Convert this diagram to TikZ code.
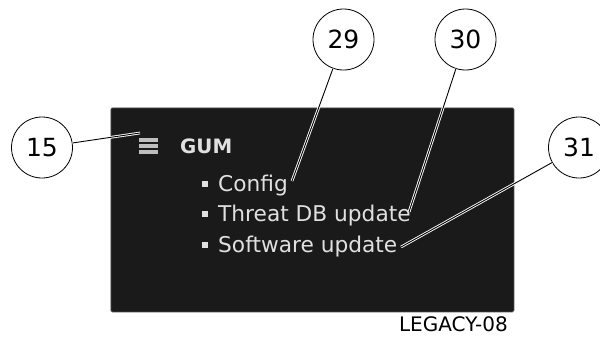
\documentclass[tikz,border=0pt]{standalone}
\usepackage{fontspec}
\setmainfont{DejaVu Sans}
\definecolor{panel}{HTML}{1A1A1A}
\definecolor{itemtxt}{HTML}{E0E0E0}
\tikzset{
  callout/.style={circle, draw=black, line width=0.8pt, fill=white, minimum size=61pt, inner sep=0pt, font=\fontsize{25}{25}\selectfont},
  leader/.style={draw=white, double=black, double distance=0.9pt, line width=0.9pt},
  item/.style={anchor=base west, text=itemtxt, inner sep=0pt, font=\fontsize{21.7}{21.7}\selectfont},
  bulletsq/.style={fill=itemtxt, minimum size=5.5pt, inner sep=0pt},
  bar/.style={fill=itemtxt!85!black, draw=none}
}
\begin{document}
\begin{tikzpicture}[x=1pt,y=-1pt]
\useasboundingbox (0,0) rectangle (600,338);
\clip (0,0) rectangle (600,338);
% panel
\node[draw=black!70, line width=0.8pt, fill=panel, rounded corners=1.5pt, minimum width=403pt, minimum height=204pt, anchor=north west, inner sep=0pt] (panel) at (110.5,107.5) {};
% list icon
\node[inner sep=0pt, minimum width=19pt, minimum height=16pt] (icon) at (148,145.5) {};
\fill[bar] (139,137.5) rectangle (157.5,141.5);
\fill[bar] (139,143.5) rectangle (157.5,147.5);
\fill[bar] (139,149.5) rectangle (157.5,153.5);
\coordinate (iconpt) at (140,133);
% title
\node[anchor=base west, text=itemtxt, inner sep=0pt, font=\fontsize{19.8}{19.8}\selectfont\bfseries] (gum) at (180,153) {GUM};
% bullets and items
\node[bulletsq] (b1) at (205,184) {};
\node[bulletsq] (b2) at (205,214) {};
\node[bulletsq] (b3) at (205,245) {};
\node[item] (config) at (218,191) {Config};
\node[item] (threat) at (218,221) {Threat DB update};
\node[item] (soft) at (218,252) {Software update};
\coordinate (e29) at (292,181);
\coordinate (e30) at (409,212);
\coordinate (e31) at (401,247);
% footer
\node[anchor=base east, inner sep=0pt, font=\fontsize{20}{20}\selectfont] (legacy) at (508,331) {LEGACY-08};
% callouts
\node[callout] (c15) at (42,147.5) {15};
\node[callout] (c29) at (343.5,39.5) {29};
\node[callout] (c30) at (465.5,39.5) {30};
\node[callout] (c31) at (579,147.5) {31};
% leaders
\draw[leader] (c15) -- (iconpt);
\draw[leader] (c29) -- (e29);
\draw[leader] (c30) -- (e30);
\draw[leader] (c31) -- (e31);
\end{tikzpicture}
\end{document}
